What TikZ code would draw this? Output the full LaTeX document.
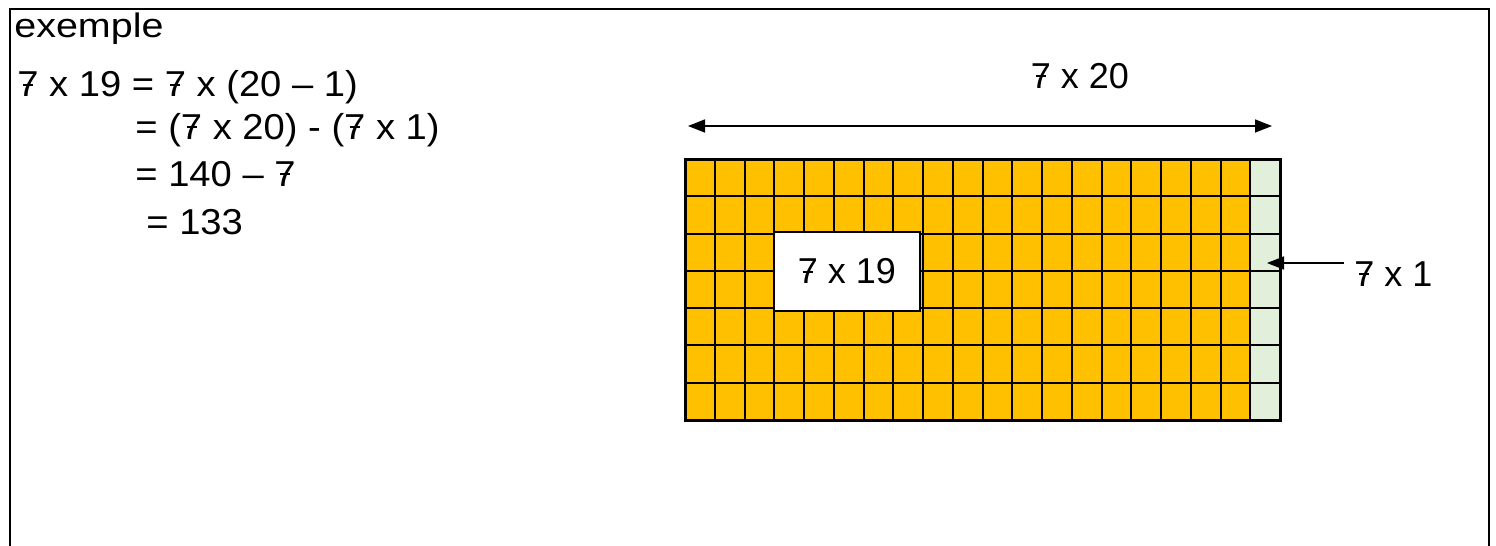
\documentclass[tikz,border=0pt]{standalone}
\usepackage{fontspec}
\setmainfont{Liberation Sans}
\newfontfamily\titlefont[FakeStretch=1.16]{Liberation Sans}
\newfontfamily\eqfont[FakeStretch=1.06]{Liberation Sans}
\usetikzlibrary{arrows.meta, positioning}
\definecolor{cellorange}{HTML}{FFC000}
\definecolor{cellgreen}{HTML}{E2EFDA}
% crossed seven
\newcommand\sept{\ooalign{7\cr\hidewidth\rule[0.3em]{0.28em}{0.06em}\hidewidth\cr}}

\begin{document}
\begin{tikzpicture}[
  x=0.5pt, y=-0.5pt,
  eq/.style   ={anchor=base west, inner sep=0pt,
                font=\eqfont\fontsize{18}{21}\selectfont},
  lbl/.style  ={inner sep=0pt, font=\fontsize{18}{21}\selectfont},
  cell/.style ={draw, line width=1pt},
  prodbox/.style={draw, line width=1pt, fill=white, minimum width=73pt,
                minimum height=39.5pt, inner sep=0pt,
                font=\fontsize{18}{21}\selectfont},
  arr/.style  ={-{Triangle[length=8.5pt, width=6.5pt]}, line width=0.75pt},
  dbl/.style  ={{Triangle[length=8.5pt, width=6.5pt]}-{Triangle[length=8.5pt, width=6.5pt]},
                line width=0.75pt},
]
\useasboundingbox (0,0) rectangle (1496,546);
% frame, open at the bottom
\draw[line width=1pt] (10,546) -- (10,9) -- (1489,9) -- (1489,546);

% worked example
\node[anchor=base west, inner sep=0pt, font=\titlefont\fontsize{17}{20}\selectfont]
  (title) at (14,37) {exemple};
\node[eq] (l1) at (17,97)  {\sept{} x 19 = \sept{} x (20 – 1)};
\node[eq] (l2) at (135,139) {= (\sept{} x 20) - (\sept{} x 1)};
\node[eq] (l3) at (135,186) {= 140 – \sept};
\node[eq] (l4) at (146,234) {= 133};

% grid 7 x 20
\foreach \c in {0,...,19} {
  \ifnum\c<19 \def\col{cellorange}\else \def\col{cellgreen}\fi
  \foreach \r in {0,...,6}
    \draw[cell, fill=\col] ({685+\c*29.75},{159+\r*37.2857}) rectangle ++(29.75,37.2857);
}
\draw[line width=1.5pt] (685,159) rectangle (1280,420);
\coordinate (tip1) at (1267,263);

\node[prodbox] (p19) at (847,271.5) {\sept{} x 19};

% width arrow
\coordinate (w20) at (688,126);
\coordinate (e20) at (1272,126);
\node[lbl, anchor=base] (p20) at (1080,88) {\sept{} x 20};
\draw[dbl] (w20) -- (e20);

% one column
\node[lbl, anchor=base west] (p1) at (1354,286) {\sept{} x 1};
\draw[arr] ([xshift=-5pt]p1.west |- tip1) -- (tip1);
\end{tikzpicture}
\end{document}
